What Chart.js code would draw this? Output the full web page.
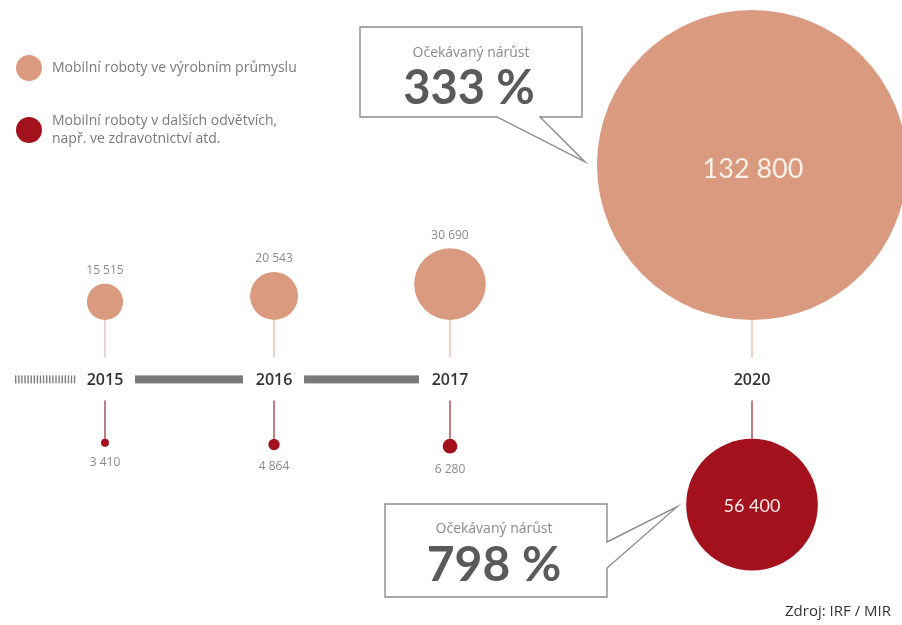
<!DOCTYPE html>
<html>
<head>
<meta charset="utf-8">
<script src="https://cdn.jsdelivr.net/npm/chart.js@4/dist/chart.umd.min.js"></script>
<style>
  html, body { margin: 0; padding: 0; background: #ffffff; }
  #wrap { position: relative; width: 902px; height: 625px; }
</style>
</head>
<body>
<div id="wrap"><canvas id="c"></canvas></div>
<script>
// ---- data ----
const years = ['2015', '2016', '2017', '2020'];
const manufacturing = [15515, 20543, 30690, 132800];
const otherSectors = [3410, 4864, 6280, 56400];
const seriesNames = [
  ['Mobilní roboty ve výrobním průmyslu'],
  ['Mobilní roboty v dalších odvětvích,', 'např. ve zdravotnictví atd.']
];
const growthTitle = 'Očekávaný nárůst';
const growthLabels = ['333 %', '798 %'];
const sourceText = 'Zdroj: IRF / MIR';

// ---- layout / style ----
const X_SLOTS = [0.1164, 0.3038, 0.4989, 0.8337];
const PX_PER_UNIT = 155 / 132800;
const LIGHT = '#D99A80';
const DARK = '#A3111D';
const FONT = '"Open Sans", Lato, sans-serif';
const BIGFONT = 'Lato, "Open Sans", sans-serif';

function fmt(n) { return String(n).replace(/\B(?=(\d{3})+(?!\d))/g, ' '); }

class SlotScale extends Chart.CategoryScale {
  getPixelForValue(value) {
    let idx = typeof value === 'number' ? value : this.getLabels().indexOf(value);
    return this.left + X_SLOTS[Math.round(idx)] * this.width;
  }
}
SlotScale.id = 'slot';
SlotScale.defaults = Chart.CategoryScale.defaults;
Chart.register(SlotScale);

const decor = {
  id: 'decor',
  afterDatasetsUpdate(chart) {
    const y = chart.scales.y;
    const topBase = y.getPixelForValue(1), botBase = y.getPixelForValue(-1);
    chart.getDatasetMeta(0).data.forEach(el => { el.y = topBase - el.options.radius; });
    chart.getDatasetMeta(1).data.forEach(el => { el.y = botBase + el.options.radius; });
  },
  beforeDatasetsDraw(chart) {
    const ctx = chart.ctx;
    const ys = chart.scales.y, xs = chart.scales.x;
    const tl = ys.getPixelForValue(0);
    const topBase = ys.getPixelForValue(1), botBase = ys.getPixelForValue(-1);
    const xp = years.map((_, i) => xs.getPixelForValue(i));
    ctx.save();
    // stems
    ctx.lineWidth = 1.2;
    xp.forEach(x => {
      ctx.strokeStyle = '#E2B4A2';
      ctx.beginPath(); ctx.moveTo(x, topBase); ctx.lineTo(x, tl - 22); ctx.stroke();
      ctx.strokeStyle = '#8E2A30';
      ctx.beginPath(); ctx.moveTo(x, tl + 21); ctx.lineTo(x, botBase); ctx.stroke();
    });
    // timeline bars
    ctx.fillStyle = '#7A7A7A';
    for (let i = 0; i < 2; i++) {
      ctx.fillRect(xp[i] + 30, tl - 4, xp[i + 1] - xp[i] - 61, 8);
    }
    // hatched lead-in
    ctx.fillStyle = '#7E7E7E';
    for (let x = 15; x < 76; x += 3.1) ctx.fillRect(x, tl - 4, 1.4, 8);
    // year labels
    ctx.fillStyle = '#333333';
    ctx.font = '600 16px ' + FONT;
    ctx.textAlign = 'center'; ctx.textBaseline = 'middle';
    years.forEach((yr, i) => ctx.fillText(yr, xp[i], tl + 1));

    // callouts
    const big = chart.getDatasetMeta(0).data[3];
    const big2 = chart.getDatasetMeta(1).data[3];
    ctx.strokeStyle = '#8C8C8C'; ctx.lineWidth = 1.4; ctx.fillStyle = '#ffffff';
    // top callout
    let tx = big.x - big.options.radius - 12, ty = big.y - 3;
    ctx.beginPath();
    ctx.moveTo(360, 27); ctx.lineTo(582, 27); ctx.lineTo(582, 117);
    ctx.lineTo(540, 117); ctx.lineTo(tx, ty); ctx.lineTo(497, 117);
    ctx.lineTo(360, 117); ctx.closePath(); ctx.fill(); ctx.stroke();
    // bottom callout
    tx = big2.x - big2.options.radius - 9; ty = big2.y + 2;
    ctx.beginPath();
    ctx.moveTo(385, 504); ctx.lineTo(607, 504); ctx.lineTo(607, 542);
    ctx.lineTo(tx, ty); ctx.lineTo(607, 568); ctx.lineTo(607, 597);
    ctx.lineTo(385, 597); ctx.closePath(); ctx.fill(); ctx.stroke();
    // callout text
    ctx.fillStyle = '#8A8A8A'; ctx.font = '14px ' + FONT;
    ctx.fillText(growthTitle, 471, 53);
    ctx.fillText(growthTitle, 494, 529);
    ctx.fillStyle = '#5A5A5A'; ctx.font = 'bold 47px ' + BIGFONT;
    ctx.fillText(growthLabels[0], 469, 89);
    ctx.font = 'bold 48px ' + BIGFONT;
    ctx.fillText(growthLabels[1], 494, 566);

    // legend
    const colors = [LIGHT, DARK];
    const ly = [68, 130];
    ctx.textAlign = 'left';
    ctx.font = '14px ' + FONT;
    seriesNames.forEach((lines, i) => {
      ctx.fillStyle = colors[i];
      ctx.beginPath(); ctx.arc(29, ly[i], 13, 0, Math.PI * 2); ctx.fill();
      ctx.fillStyle = '#7A7A7A';
      const start = ly[i] - (lines.length - 1) * 9;
      lines.forEach((ln, j) => ctx.fillText(ln, 52, start + j * 18));
    });
    // source
    ctx.textAlign = 'right'; ctx.fillStyle = '#333333'; ctx.font = '15px ' + FONT;
    ctx.fillText(sourceText, 891, 612);
    ctx.restore();
  },
  afterDatasetsDraw(chart) {
    const ctx = chart.ctx;
    ctx.save();
    ctx.textAlign = 'center'; ctx.textBaseline = 'middle';
    chart.getDatasetMeta(0).data.forEach((el, i) => {
      const r = el.options.radius;
      if (i === 3) {
        ctx.fillStyle = '#FBEFE8'; ctx.font = '27px ' + BIGFONT;
        ctx.fillText(fmt(manufacturing[i]), el.x + 1, el.y + 4);
      } else {
        ctx.fillStyle = '#8A8A8A'; ctx.font = '12px ' + FONT;
        ctx.fillText(fmt(manufacturing[i]), el.x, el.y - r - 13);
      }
    });
    chart.getDatasetMeta(1).data.forEach((el, i) => {
      const r = el.options.radius;
      if (i === 3) {
        ctx.fillStyle = '#FBEAEA'; ctx.font = '18px ' + BIGFONT;
        ctx.fillText(fmt(otherSectors[i]), el.x, el.y + 1);
      } else {
        ctx.fillStyle = '#8A8A8A'; ctx.font = '12px ' + FONT;
        ctx.fillText(fmt(otherSectors[i]), el.x, el.y + r + 16);
      }
    });
    ctx.restore();
  }
};

new Chart(document.getElementById('c'), {
  type: 'bubble',
  data: {
    labels: years,
    datasets: [
      {
        label: seriesNames[0].join(' '),
        data: manufacturing.map((v, i) => ({ x: i, y: 1, r: v * PX_PER_UNIT })),
        backgroundColor: LIGHT, borderWidth: 0, clip: false
      },
      {
        label: seriesNames[1].join(' '),
        data: otherSectors.map((v, i) => ({ x: i, y: -1, r: v * PX_PER_UNIT })),
        backgroundColor: DARK, borderWidth: 0, clip: false
      }
    ]
  },
  options: {
    responsive: true,
    maintainAspectRatio: false,
    animation: false,
    events: [],
    layout: { padding: 0, autoPadding: false },
    plugins: { legend: { display: false }, tooltip: { enabled: false } },
    scales: {
      x: { type: 'slot', labels: years, display: false },
      y: { type: 'linear', min: -4.13, max: 6.38, display: false }
    }
  },
  plugins: [decor]
});
</script>
</body>
</html>
